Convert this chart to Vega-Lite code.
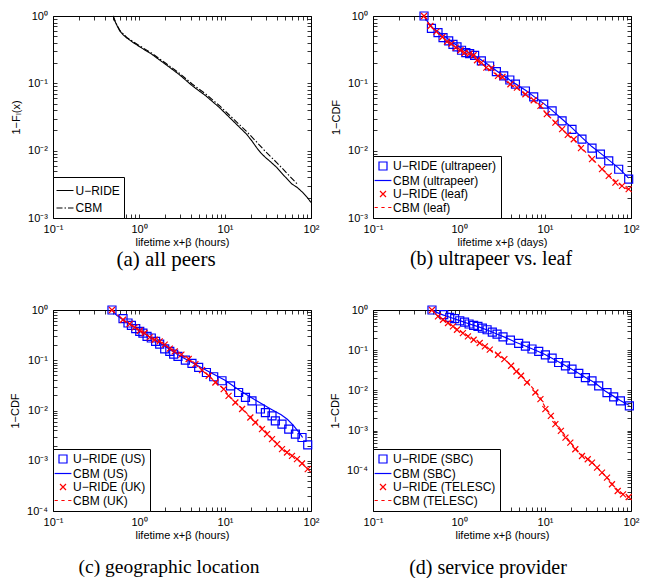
{
  "$schema": "https://vega.github.io/schema/vega-lite/v6.json",
  "background": "white",
  "padding": {"left": 8, "top": 9, "right": 4, "bottom": 0},
  "bounds": "flush",
  "columns": 2,
  "spacing": {"row": 92, "column": 62},
  "resolve": {"scale": {"color": "independent", "shape": "independent", "strokeDash": "independent"}},
  "datasets": {
    "a": [
      {"s":"U−RIDE","x":0.50,"y":1},{"s":"U−RIDE","x":0.52,"y":0.86},{"s":"U−RIDE","x":0.546,"y":0.753},{"s":"U−RIDE","x":0.597,"y":0.60},{"s":"U−RIDE","x":0.65,"y":0.53},{"s":"U−RIDE","x":0.716,"y":0.476},{"s":"U−RIDE","x":0.84,"y":0.41},{"s":"U−RIDE","x":0.984,"y":0.359},{"s":"U−RIDE","x":1.41,"y":0.270},{"s":"U−RIDE","x":2.03,"y":0.192},{"s":"U−RIDE","x":2.92,"y":0.136},{"s":"U−RIDE","x":4.18,"y":0.0915},{"s":"U−RIDE","x":6.0,"y":0.065},{"s":"U−RIDE","x":8.63,"y":0.0436},{"s":"U−RIDE","x":12.4,"y":0.0277},{"s":"U−RIDE","x":17.8,"y":0.0176},{"s":"U−RIDE","x":20.5,"y":0.0140},{"s":"U−RIDE","x":23.3,"y":0.0111},{"s":"U−RIDE","x":26,"y":0.0093},{"s":"U−RIDE","x":29.3,"y":0.0080},{"s":"U−RIDE","x":34,"y":0.0068},{"s":"U−RIDE","x":40.2,"y":0.0056},{"s":"U−RIDE","x":46,"y":0.0046},{"s":"U−RIDE","x":52.7,"y":0.0038},{"s":"U−RIDE","x":60,"y":0.0032},{"s":"U−RIDE","x":69.2,"y":0.00284},{"s":"U−RIDE","x":80,"y":0.0024},{"s":"U−RIDE","x":90.8,"y":0.00201},{"s":"U−RIDE","x":100,"y":0.0017},
      {"s":"CBM","x":0.50,"y":1},{"s":"CBM","x":0.546,"y":0.76},{"s":"CBM","x":0.60,"y":0.61},{"s":"CBM","x":0.72,"y":0.48},{"s":"CBM","x":1.0,"y":0.365},{"s":"CBM","x":1.41,"y":0.28},{"s":"CBM","x":2.03,"y":0.200},{"s":"CBM","x":2.92,"y":0.143},{"s":"CBM","x":4.18,"y":0.097},{"s":"CBM","x":6.0,"y":0.069},{"s":"CBM","x":8.63,"y":0.0465},{"s":"CBM","x":12.4,"y":0.030},{"s":"CBM","x":17.8,"y":0.0193},{"s":"CBM","x":23.3,"y":0.0135},{"s":"CBM","x":29.3,"y":0.0098},{"s":"CBM","x":40.2,"y":0.0066},{"s":"CBM","x":52.7,"y":0.0046},{"s":"CBM","x":69.2,"y":0.0032}
    ],
    "b": [
      {"s":"U−RIDE (ultrapeer)","x":0.392,"y":1},{"s":"U−RIDE (ultrapeer)","x":0.478,"y":0.657},{"s":"U−RIDE (ultrapeer)","x":0.570,"y":0.565},{"s":"U−RIDE (ultrapeer)","x":0.652,"y":0.477},{"s":"U−RIDE (ultrapeer)","x":0.759,"y":0.426},{"s":"U−RIDE (ultrapeer)","x":0.851,"y":0.380},{"s":"U−RIDE (ultrapeer)","x":0.948,"y":0.347},{"s":"U−RIDE (ultrapeer)","x":1.07,"y":0.310},{"s":"U−RIDE (ultrapeer)","x":1.20,"y":0.285},{"s":"U−RIDE (ultrapeer)","x":1.33,"y":0.276},{"s":"U−RIDE (ultrapeer)","x":1.52,"y":0.261},{"s":"U−RIDE (ultrapeer)","x":1.82,"y":0.215},{"s":"U−RIDE (ultrapeer)","x":2.27,"y":0.181},{"s":"U−RIDE (ultrapeer)","x":2.72,"y":0.149},{"s":"U−RIDE (ultrapeer)","x":3.31,"y":0.129},{"s":"U−RIDE (ultrapeer)","x":3.9,"y":0.112},{"s":"U−RIDE (ultrapeer)","x":4.53,"y":0.097},{"s":"U−RIDE (ultrapeer)","x":5.92,"y":0.077},{"s":"U−RIDE (ultrapeer)","x":7.39,"y":0.0628},{"s":"U−RIDE (ultrapeer)","x":9.66,"y":0.049},{"s":"U−RIDE (ultrapeer)","x":12.1,"y":0.039},{"s":"U−RIDE (ultrapeer)","x":15.8,"y":0.0277},{"s":"U−RIDE (ultrapeer)","x":20.6,"y":0.0207},{"s":"U−RIDE (ultrapeer)","x":26.9,"y":0.0148},{"s":"U−RIDE (ultrapeer)","x":35.2,"y":0.0109},{"s":"U−RIDE (ultrapeer)","x":44.1,"y":0.00887},{"s":"U−RIDE (ultrapeer)","x":55.1,"y":0.00706},{"s":"U−RIDE (ultrapeer)","x":71.9,"y":0.0053},{"s":"U−RIDE (ultrapeer)","x":94,"y":0.00378},
      {"s":"CBM (ultrapeer)","x":0.392,"y":1},{"s":"CBM (ultrapeer)","x":0.45,"y":0.76},{"s":"CBM (ultrapeer)","x":0.5,"y":0.66},{"s":"CBM (ultrapeer)","x":0.6,"y":0.56},{"s":"CBM (ultrapeer)","x":0.7,"y":0.49},{"s":"CBM (ultrapeer)","x":0.85,"y":0.40},{"s":"CBM (ultrapeer)","x":1.0,"y":0.35},{"s":"CBM (ultrapeer)","x":1.2,"y":0.30},{"s":"CBM (ultrapeer)","x":1.5,"y":0.26},{"s":"CBM (ultrapeer)","x":2.0,"y":0.205},{"s":"CBM (ultrapeer)","x":2.7,"y":0.155},{"s":"CBM (ultrapeer)","x":3.3,"y":0.13},{"s":"CBM (ultrapeer)","x":4.5,"y":0.099},{"s":"CBM (ultrapeer)","x":6,"y":0.078},{"s":"CBM (ultrapeer)","x":7.4,"y":0.064},{"s":"CBM (ultrapeer)","x":9.7,"y":0.050},{"s":"CBM (ultrapeer)","x":12,"y":0.040},{"s":"CBM (ultrapeer)","x":16,"y":0.029},{"s":"CBM (ultrapeer)","x":20.6,"y":0.0218},{"s":"CBM (ultrapeer)","x":27,"y":0.0156},{"s":"CBM (ultrapeer)","x":35,"y":0.0115},{"s":"CBM (ultrapeer)","x":44,"y":0.0092},{"s":"CBM (ultrapeer)","x":55,"y":0.0073},{"s":"CBM (ultrapeer)","x":72,"y":0.0055},{"s":"CBM (ultrapeer)","x":94,"y":0.0039},
      {"s":"U−RIDE (leaf)","x":0.392,"y":1},{"s":"U−RIDE (leaf)","x":0.465,"y":0.711},{"s":"U−RIDE (leaf)","x":0.546,"y":0.585},{"s":"U−RIDE (leaf)","x":0.641,"y":0.488},{"s":"U−RIDE (leaf)","x":0.725,"y":0.416},{"s":"U−RIDE (leaf)","x":0.816,"y":0.388},{"s":"U−RIDE (leaf)","x":0.916,"y":0.339},{"s":"U−RIDE (leaf)","x":1.04,"y":0.310},{"s":"U−RIDE (leaf)","x":1.16,"y":0.285},{"s":"U−RIDE (leaf)","x":1.33,"y":0.276},{"s":"U−RIDE (leaf)","x":1.48,"y":0.261},{"s":"U−RIDE (leaf)","x":1.62,"y":0.220},{"s":"U−RIDE (leaf)","x":1.82,"y":0.203},{"s":"U−RIDE (leaf)","x":2.08,"y":0.171},{"s":"U−RIDE (leaf)","x":2.38,"y":0.168},{"s":"U−RIDE (leaf)","x":2.84,"y":0.129},{"s":"U−RIDE (leaf)","x":3.20,"y":0.124},{"s":"U−RIDE (leaf)","x":3.96,"y":0.097},{"s":"U−RIDE (leaf)","x":4.72,"y":0.0863},{"s":"U−RIDE (leaf)","x":5.92,"y":0.0689},{"s":"U−RIDE (leaf)","x":7.39,"y":0.0561},{"s":"U−RIDE (leaf)","x":8.85,"y":0.0462},{"s":"U−RIDE (leaf)","x":10.5,"y":0.0348},{"s":"U−RIDE (leaf)","x":13.2,"y":0.0261},{"s":"U−RIDE (leaf)","x":15.8,"y":0.0209},{"s":"U−RIDE (leaf)","x":18.4,"y":0.0172},{"s":"U−RIDE (leaf)","x":21.6,"y":0.0148},{"s":"U−RIDE (leaf)","x":26.2,"y":0.0109},{"s":"U−RIDE (leaf)","x":35.2,"y":0.00748},{"s":"U−RIDE (leaf)","x":46.0,"y":0.00532},{"s":"U−RIDE (leaf)","x":55.1,"y":0.00423},{"s":"U−RIDE (leaf)","x":65.9,"y":0.00336},{"s":"U−RIDE (leaf)","x":78.6,"y":0.0030},{"s":"U−RIDE (leaf)","x":94,"y":0.00268},
      {"s":"CBM (leaf)","x":0.392,"y":1},{"s":"CBM (leaf)","x":0.465,"y":0.71},{"s":"CBM (leaf)","x":0.55,"y":0.58},{"s":"CBM (leaf)","x":0.64,"y":0.49},{"s":"CBM (leaf)","x":0.73,"y":0.42},{"s":"CBM (leaf)","x":0.82,"y":0.385},{"s":"CBM (leaf)","x":0.92,"y":0.34},{"s":"CBM (leaf)","x":1.04,"y":0.31},{"s":"CBM (leaf)","x":1.2,"y":0.28},{"s":"CBM (leaf)","x":1.48,"y":0.255},{"s":"CBM (leaf)","x":1.62,"y":0.225},{"s":"CBM (leaf)","x":2.08,"y":0.172},{"s":"CBM (leaf)","x":2.84,"y":0.13},{"s":"CBM (leaf)","x":3.96,"y":0.096},{"s":"CBM (leaf)","x":4.72,"y":0.085},{"s":"CBM (leaf)","x":5.92,"y":0.068},{"s":"CBM (leaf)","x":7.39,"y":0.055},{"s":"CBM (leaf)","x":8.85,"y":0.045},{"s":"CBM (leaf)","x":10.5,"y":0.035},{"s":"CBM (leaf)","x":13.2,"y":0.0262},{"s":"CBM (leaf)","x":15.8,"y":0.0208},{"s":"CBM (leaf)","x":18.4,"y":0.0172},{"s":"CBM (leaf)","x":21.6,"y":0.0146},{"s":"CBM (leaf)","x":26.2,"y":0.0112},{"s":"CBM (leaf)","x":35.2,"y":0.0076},{"s":"CBM (leaf)","x":46,"y":0.0054},{"s":"CBM (leaf)","x":55,"y":0.0043},{"s":"CBM (leaf)","x":66,"y":0.0035},{"s":"CBM (leaf)","x":78.6,"y":0.0030},{"s":"CBM (leaf)","x":94,"y":0.0026}
    ],
    "c": [
      {"s":"U−RIDE (US)","x":0.485,"y":1},{"s":"U−RIDE (US)","x":0.652,"y":0.671},{"s":"U−RIDE (US)","x":0.745,"y":0.551},{"s":"U−RIDE (US)","x":0.816,"y":0.493},{"s":"U−RIDE (US)","x":0.916,"y":0.424},{"s":"U−RIDE (US)","x":1.02,"y":0.375},{"s":"U−RIDE (US)","x":1.11,"y":0.348},{"s":"U−RIDE (US)","x":1.24,"y":0.298},{"s":"U−RIDE (US)","x":1.39,"y":0.277},{"s":"U−RIDE (US)","x":1.56,"y":0.237},{"s":"U−RIDE (US)","x":1.74,"y":0.210},{"s":"U−RIDE (US)","x":1.99,"y":0.168},{"s":"U−RIDE (US)","x":2.28,"y":0.150},{"s":"U−RIDE (US)","x":2.53,"y":0.133},{"s":"U−RIDE (US)","x":2.84,"y":0.119},{"s":"U−RIDE (US)","x":3.46,"y":0.101},{"s":"U−RIDE (US)","x":4.13,"y":0.0863},{"s":"U−RIDE (US)","x":4.94,"y":0.0719},{"s":"U−RIDE (US)","x":6.08,"y":0.0571},{"s":"U−RIDE (US)","x":7.39,"y":0.0469},{"s":"U−RIDE (US)","x":9.23,"y":0.0391},{"s":"U−RIDE (US)","x":11.6,"y":0.031},{"s":"U−RIDE (US)","x":14.4,"y":0.0228},{"s":"U−RIDE (US)","x":17.3,"y":0.0182},{"s":"U−RIDE (US)","x":20.6,"y":0.0156},{"s":"U−RIDE (US)","x":25.8,"y":0.0107},{"s":"U−RIDE (US)","x":29.5,"y":0.0091},{"s":"U−RIDE (US)","x":35.2,"y":0.00783},{"s":"U−RIDE (US)","x":38.5,"y":0.00623},{"s":"U−RIDE (US)","x":46.0,"y":0.00536},{"s":"U−RIDE (US)","x":55.1,"y":0.00426},{"s":"U−RIDE (US)","x":65.9,"y":0.00339},{"s":"U−RIDE (US)","x":78.6,"y":0.0029},{"s":"U−RIDE (US)","x":91.6,"y":0.00207},
      {"s":"CBM (US)","x":0.485,"y":1},{"s":"CBM (US)","x":0.55,"y":0.78},{"s":"CBM (US)","x":0.65,"y":0.64},{"s":"CBM (US)","x":0.8,"y":0.5},{"s":"CBM (US)","x":1.0,"y":0.39},{"s":"CBM (US)","x":1.5,"y":0.26},{"s":"CBM (US)","x":2,"y":0.19},{"s":"CBM (US)","x":3,"y":0.122},{"s":"CBM (US)","x":4.5,"y":0.083},{"s":"CBM (US)","x":6.2,"y":0.062},{"s":"CBM (US)","x":10,"y":0.040},{"s":"CBM (US)","x":15,"y":0.0247},{"s":"CBM (US)","x":22,"y":0.0165},{"s":"CBM (US)","x":34,"y":0.0107},{"s":"CBM (US)","x":45,"y":0.0082},{"s":"CBM (US)","x":53,"y":0.0067},{"s":"CBM (US)","x":62,"y":0.0051},{"s":"CBM (US)","x":75,"y":0.0034},{"s":"CBM (US)","x":80,"y":0.0029},
      {"s":"U−RIDE (UK)","x":0.485,"y":1},{"s":"U−RIDE (UK)","x":0.652,"y":0.641},{"s":"U−RIDE (UK)","x":0.780,"y":0.526},{"s":"U−RIDE (UK)","x":0.891,"y":0.450},{"s":"U−RIDE (UK)","x":1.02,"y":0.387},{"s":"U−RIDE (UK)","x":1.16,"y":0.348},{"s":"U−RIDE (UK)","x":1.33,"y":0.285},{"s":"U−RIDE (UK)","x":1.52,"y":0.256},{"s":"U−RIDE (UK)","x":1.74,"y":0.237},{"s":"U−RIDE (UK)","x":1.99,"y":0.204},{"s":"U−RIDE (UK)","x":2.28,"y":0.170},{"s":"U−RIDE (UK)","x":2.60,"y":0.150},{"s":"U−RIDE (UK)","x":3.11,"y":0.129},{"s":"U−RIDE (UK)","x":3.78,"y":0.106},{"s":"U−RIDE (UK)","x":4.53,"y":0.084},{"s":"U−RIDE (UK)","x":5.41,"y":0.0638},{"s":"U−RIDE (UK)","x":6.46,"y":0.0491},{"s":"U−RIDE (UK)","x":7.73,"y":0.0361},{"s":"U−RIDE (UK)","x":9.66,"y":0.0267},{"s":"U−RIDE (UK)","x":11.0,"y":0.0196},{"s":"U−RIDE (UK)","x":13.2,"y":0.0144},{"s":"U−RIDE (UK)","x":15.8,"y":0.0107},{"s":"U−RIDE (UK)","x":19.7,"y":0.00726},{"s":"U−RIDE (UK)","x":22.5,"y":0.00577},{"s":"U−RIDE (UK)","x":26.9,"y":0.00426},{"s":"U−RIDE (UK)","x":30.8,"y":0.00339},{"s":"U−RIDE (UK)","x":35.2,"y":0.00269},{"s":"U−RIDE (UK)","x":40.3,"y":0.00214},{"s":"U−RIDE (UK)","x":46.0,"y":0.0017},{"s":"U−RIDE (UK)","x":52.6,"y":0.00146},{"s":"U−RIDE (UK)","x":60.1,"y":0.00125},{"s":"U−RIDE (UK)","x":68.7,"y":0.00108},{"s":"U−RIDE (UK)","x":78.6,"y":0.00088},{"s":"U−RIDE (UK)","x":91.6,"y":0.00068},
      {"s":"CBM (UK)","x":0.485,"y":1},{"s":"CBM (UK)","x":0.652,"y":0.64},{"s":"CBM (UK)","x":0.78,"y":0.53},{"s":"CBM (UK)","x":0.891,"y":0.45},{"s":"CBM (UK)","x":1.02,"y":0.39},{"s":"CBM (UK)","x":1.16,"y":0.345},{"s":"CBM (UK)","x":1.33,"y":0.29},{"s":"CBM (UK)","x":1.52,"y":0.255},{"s":"CBM (UK)","x":1.74,"y":0.232},{"s":"CBM (UK)","x":1.99,"y":0.205},{"s":"CBM (UK)","x":2.28,"y":0.172},{"s":"CBM (UK)","x":2.6,"y":0.150},{"s":"CBM (UK)","x":3.11,"y":0.128},{"s":"CBM (UK)","x":3.78,"y":0.105},{"s":"CBM (UK)","x":4.53,"y":0.085},{"s":"CBM (UK)","x":5.41,"y":0.064},{"s":"CBM (UK)","x":6.46,"y":0.049},{"s":"CBM (UK)","x":7.73,"y":0.037},{"s":"CBM (UK)","x":9.66,"y":0.027},{"s":"CBM (UK)","x":11,"y":0.020},{"s":"CBM (UK)","x":13.2,"y":0.0146},{"s":"CBM (UK)","x":15.8,"y":0.0110},{"s":"CBM (UK)","x":19.7,"y":0.0075},{"s":"CBM (UK)","x":22.5,"y":0.0060},{"s":"CBM (UK)","x":26.9,"y":0.0045},{"s":"CBM (UK)","x":30.8,"y":0.0036},{"s":"CBM (UK)","x":35.2,"y":0.0028},{"s":"CBM (UK)","x":40.3,"y":0.0022},{"s":"CBM (UK)","x":46,"y":0.00175},{"s":"CBM (UK)","x":52.6,"y":0.0015},{"s":"CBM (UK)","x":60.1,"y":0.00128},{"s":"CBM (UK)","x":68.7,"y":0.0011},{"s":"CBM (UK)","x":78.6,"y":0.0009},{"s":"CBM (UK)","x":91.6,"y":0.0007}
    ],
    "d": [
      {"s":"U−RIDE (SBC)","x":0.485,"y":1},{"s":"U−RIDE (SBC)","x":0.664,"y":0.764},{"s":"U−RIDE (SBC)","x":0.780,"y":0.654},{"s":"U−RIDE (SBC)","x":0.891,"y":0.607},{"s":"U−RIDE (SBC)","x":1.02,"y":0.541},{"s":"U−RIDE (SBC)","x":1.16,"y":0.502},{"s":"U−RIDE (SBC)","x":1.31,"y":0.448},{"s":"U−RIDE (SBC)","x":1.48,"y":0.413},{"s":"U−RIDE (SBC)","x":1.66,"y":0.390},{"s":"U−RIDE (SBC)","x":1.87,"y":0.356},{"s":"U−RIDE (SBC)","x":2.12,"y":0.323},{"s":"U−RIDE (SBC)","x":2.44,"y":0.283},{"s":"U−RIDE (SBC)","x":2.77,"y":0.252},{"s":"U−RIDE (SBC)","x":3.25,"y":0.215},{"s":"U−RIDE (SBC)","x":3.96,"y":0.178},{"s":"U−RIDE (SBC)","x":4.94,"y":0.147},{"s":"U−RIDE (SBC)","x":5.92,"y":0.127},{"s":"U−RIDE (SBC)","x":7.06,"y":0.107},{"s":"U−RIDE (SBC)","x":8.45,"y":0.093},{"s":"U−RIDE (SBC)","x":10.1,"y":0.0769},{"s":"U−RIDE (SBC)","x":12.1,"y":0.0637},{"s":"U−RIDE (SBC)","x":14.4,"y":0.0495},{"s":"U−RIDE (SBC)","x":17.3,"y":0.0409},{"s":"U−RIDE (SBC)","x":20.6,"y":0.0339},{"s":"U−RIDE (SBC)","x":24.7,"y":0.0264},{"s":"U−RIDE (SBC)","x":29.5,"y":0.0209},{"s":"U−RIDE (SBC)","x":35.2,"y":0.0173},{"s":"U−RIDE (SBC)","x":42.1,"y":0.013},{"s":"U−RIDE (SBC)","x":52.6,"y":0.00885},{"s":"U−RIDE (SBC)","x":62.9,"y":0.00692},{"s":"U−RIDE (SBC)","x":75.3,"y":0.0055},{"s":"U−RIDE (SBC)","x":95.7,"y":0.00413},
      {"s":"CBM (SBC)","x":0.485,"y":1},{"s":"CBM (SBC)","x":0.6,"y":0.80},{"s":"CBM (SBC)","x":0.8,"y":0.65},{"s":"CBM (SBC)","x":1.0,"y":0.55},{"s":"CBM (SBC)","x":1.3,"y":0.455},{"s":"CBM (SBC)","x":1.7,"y":0.38},{"s":"CBM (SBC)","x":2.2,"y":0.31},{"s":"CBM (SBC)","x":2.8,"y":0.25},{"s":"CBM (SBC)","x":3.5,"y":0.205},{"s":"CBM (SBC)","x":4.5,"y":0.160},{"s":"CBM (SBC)","x":6,"y":0.125},{"s":"CBM (SBC)","x":8,"y":0.097},{"s":"CBM (SBC)","x":10,"y":0.078},{"s":"CBM (SBC)","x":13,"y":0.058},{"s":"CBM (SBC)","x":17,"y":0.042},{"s":"CBM (SBC)","x":22,"y":0.031},{"s":"CBM (SBC)","x":29,"y":0.0215},{"s":"CBM (SBC)","x":38,"y":0.0155},{"s":"CBM (SBC)","x":50,"y":0.0097},{"s":"CBM (SBC)","x":63,"y":0.0071},{"s":"CBM (SBC)","x":75,"y":0.0056},{"s":"CBM (SBC)","x":95.7,"y":0.0042},
      {"s":"U−RIDE (TELESC)","x":0.485,"y":1},{"s":"U−RIDE (TELESC)","x":0.570,"y":0.693},{"s":"U−RIDE (TELESC)","x":0.652,"y":0.573},{"s":"U−RIDE (TELESC)","x":0.745,"y":0.474},{"s":"U−RIDE (TELESC)","x":0.851,"y":0.390},{"s":"U−RIDE (TELESC)","x":0.948,"y":0.323},{"s":"U−RIDE (TELESC)","x":1.11,"y":0.267},{"s":"U−RIDE (TELESC)","x":1.27,"y":0.220},{"s":"U−RIDE (TELESC)","x":1.48,"y":0.182},{"s":"U−RIDE (TELESC)","x":1.74,"y":0.151},{"s":"U−RIDE (TELESC)","x":2.0,"y":0.125},{"s":"U−RIDE (TELESC)","x":2.28,"y":0.103},{"s":"U−RIDE (TELESC)","x":2.84,"y":0.0769},{"s":"U−RIDE (TELESC)","x":3.37,"y":0.0601},{"s":"U−RIDE (TELESC)","x":4.03,"y":0.041},{"s":"U−RIDE (TELESC)","x":4.65,"y":0.0295},{"s":"U−RIDE (TELESC)","x":5.26,"y":0.0231},{"s":"U−RIDE (TELESC)","x":6.18,"y":0.0157},{"s":"U−RIDE (TELESC)","x":7.73,"y":0.00885},{"s":"U−RIDE (TELESC)","x":8.85,"y":0.00607},{"s":"U−RIDE (TELESC)","x":10.1,"y":0.00342},{"s":"U−RIDE (TELESC)","x":11.7,"y":0.00233},{"s":"U−RIDE (TELESC)","x":13.2,"y":0.00145},{"s":"U−RIDE (TELESC)","x":15.3,"y":0.000984},{"s":"U−RIDE (TELESC)","x":17.3,"y":0.00067},{"s":"U−RIDE (TELESC)","x":19.7,"y":0.000503},{"s":"U−RIDE (TELESC)","x":22.5,"y":0.000344},{"s":"U−RIDE (TELESC)","x":26.9,"y":0.000234},{"s":"U−RIDE (TELESC)","x":31.4,"y":0.000194},{"s":"U−RIDE (TELESC)","x":35.2,"y":0.00016},{"s":"U−RIDE (TELESC)","x":40.3,"y":0.00012},{"s":"U−RIDE (TELESC)","x":46.0,"y":0.00009},{"s":"U−RIDE (TELESC)","x":52.6,"y":0.0000676},{"s":"U−RIDE (TELESC)","x":60.1,"y":0.0000462},{"s":"U−RIDE (TELESC)","x":70.0,"y":0.0000315},{"s":"U−RIDE (TELESC)","x":80.7,"y":0.000026},{"s":"U−RIDE (TELESC)","x":94,"y":0.0000223},
      {"s":"CBM (TELESC)","x":0.485,"y":1},{"s":"CBM (TELESC)","x":0.6,"y":0.63},{"s":"CBM (TELESC)","x":0.75,"y":0.47},{"s":"CBM (TELESC)","x":0.95,"y":0.33},{"s":"CBM (TELESC)","x":1.2,"y":0.245},{"s":"CBM (TELESC)","x":1.5,"y":0.18},{"s":"CBM (TELESC)","x":2.0,"y":0.125},{"s":"CBM (TELESC)","x":2.5,"y":0.092},{"s":"CBM (TELESC)","x":3.0,"y":0.072},{"s":"CBM (TELESC)","x":3.5,"y":0.056},{"s":"CBM (TELESC)","x":4.0,"y":0.043},{"s":"CBM (TELESC)","x":4.65,"y":0.031},{"s":"CBM (TELESC)","x":5.3,"y":0.0235},{"s":"CBM (TELESC)","x":6.2,"y":0.0165},{"s":"CBM (TELESC)","x":7.0,"y":0.0123},{"s":"CBM (TELESC)","x":7.8,"y":0.0093},{"s":"CBM (TELESC)","x":8.9,"y":0.0063},{"s":"CBM (TELESC)","x":10.1,"y":0.0037},{"s":"CBM (TELESC)","x":11.7,"y":0.0025},{"s":"CBM (TELESC)","x":13.2,"y":0.00158},{"s":"CBM (TELESC)","x":15.3,"y":0.00105},{"s":"CBM (TELESC)","x":17.3,"y":0.00072},{"s":"CBM (TELESC)","x":19.7,"y":0.00052},{"s":"CBM (TELESC)","x":22.5,"y":0.00036},{"s":"CBM (TELESC)","x":26.9,"y":0.000245},{"s":"CBM (TELESC)","x":31.4,"y":0.000195},{"s":"CBM (TELESC)","x":35.2,"y":0.000162},{"s":"CBM (TELESC)","x":40.3,"y":0.000122},{"s":"CBM (TELESC)","x":46,"y":0.000091},{"s":"CBM (TELESC)","x":52.6,"y":0.000068},{"s":"CBM (TELESC)","x":60.1,"y":0.000047},{"s":"CBM (TELESC)","x":70,"y":0.000033},{"s":"CBM (TELESC)","x":80.7,"y":0.000026},{"s":"CBM (TELESC)","x":94,"y":0.0000223}
    ]
  },
  "concat": [
    {
      "width": 258, "height": 202,
      "data": {"name": "a"},
      "title": {"text": "(a) all peers", "orient": "bottom", "frame": "group", "font": "Liberation Serif", "fontSize": 21, "fontWeight": "normal", "color": "black", "anchor": "middle", "offset": 1, "dx": -16},
      "resolve": {"axis": {"x": "independent", "y": "independent"}},
      "layer": [
        {
          "mark": {"type": "line", "color": "black", "strokeWidth": 1.1},
          "encoding": {
            "x": {"field": "x", "type": "quantitative", "scale": {"type": "log", "domain": [0.1, 100], "nice": false},
              "axis": {"orient": "bottom", "values": [0.1,0.2,0.3,0.4,0.5,0.6,0.7,0.8,0.9,1,2,3,4,5,6,7,8,9,10,20,30,40,50,60,70,80,90,100], "labelExpr": "abs(log(datum.value)/LN10 - round(log(datum.value)/LN10)) < 0.01 ? '10' + replace(replace(replace(replace(replace(replace(replace('' + round(log(datum.value)/LN10), '-', '⁻'), '0', '⁰'), '1', '¹'), '2', '²'), '3', '³'), '4', '⁴'), '5', '⁵') : ''", "title": "lifetime x+β (hours)", "titlePadding": 2}},
            "y": {"field": "y", "type": "quantitative", "scale": {"type": "log", "domain": [0.001, 1], "nice": false},
              "axis": {"orient": "left", "values": [0.001,0.002,0.003,0.004,0.005,0.006,0.007,0.008,0.009,0.01,0.02,0.03,0.04,0.05,0.06,0.07,0.08,0.09,0.1,0.2,0.3,0.4,0.5,0.6,0.7,0.8,0.9,1], "labelExpr": "abs(log(datum.value)/LN10 - round(log(datum.value)/LN10)) < 0.01 ? '10' + replace(replace(replace(replace(replace(replace(replace('' + round(log(datum.value)/LN10), '-', '⁻'), '0', '⁰'), '1', '¹'), '2', '²'), '3', '³'), '4', '⁴'), '5', '⁵') : ''", "title": "1−Fₗ(x)", "titlePadding": 6.5}},
            "strokeDash": {"field": "s", "type": "nominal", "scale": {"domain": ["U−RIDE", "CBM"], "range": [[1, 0], [6, 2, 1.5, 2]]},
              "legend": {"title": null, "symbolType": "stroke", "symbolSize": 289, "symbolOffset": -1.5, "labelOffset": 1, "symbolStrokeColor": "black", "symbolStrokeWidth": 1.1}}
          }
        },
        {
          "mark": {"type": "point", "opacity": 0},
          "encoding": {
            "x": {"field": "x", "type": "quantitative", "scale": {"type": "log", "domain": [0.1, 100], "nice": false},
              "axis": {"orient": "top", "values": [0.1,0.2,0.3,0.4,0.5,0.6,0.7,0.8,0.9,1,2,3,4,5,6,7,8,9,10,20,30,40,50,60,70,80,90,100], "labels": false, "title": null}},
            "y": {"field": "y", "type": "quantitative", "scale": {"type": "log", "domain": [0.001, 1], "nice": false},
              "axis": {"orient": "right", "values": [0.001,0.002,0.003,0.004,0.005,0.006,0.007,0.008,0.009,0.01,0.02,0.03,0.04,0.05,0.06,0.07,0.08,0.09,0.1,0.2,0.3,0.4,0.5,0.6,0.7,0.8,0.9,1], "labels": false, "title": null}}
          }
        }
      ]
    },
    {
      "width": 258, "height": 202,
      "data": {"name": "b"},
      "title": {"text": "(b) ultrapeer vs. leaf", "orient": "bottom", "frame": "group", "font": "Liberation Serif", "fontSize": 20, "fontWeight": "normal", "color": "black", "anchor": "middle", "offset": 1, "dx": -11},
      "resolve": {"axis": {"x": "independent", "y": "independent"}},
      "layer": [
        {
          "transform": [{"filter": "datum.s === 'CBM (ultrapeer)'"}],
          "mark": {"type": "line", "color": "blue", "strokeWidth": 1.2},
          "encoding": {
            "x": {"field": "x", "type": "quantitative", "scale": {"type": "log", "domain": [0.1, 100], "nice": false},
              "axis": {"orient": "bottom", "values": [0.1,0.2,0.3,0.4,0.5,0.6,0.7,0.8,0.9,1,2,3,4,5,6,7,8,9,10,20,30,40,50,60,70,80,90,100], "labelExpr": "abs(log(datum.value)/LN10 - round(log(datum.value)/LN10)) < 0.01 ? '10' + replace(replace(replace(replace(replace(replace(replace('' + round(log(datum.value)/LN10), '-', '⁻'), '0', '⁰'), '1', '¹'), '2', '²'), '3', '³'), '4', '⁴'), '5', '⁵') : ''", "title": "lifetime x+β (days)", "titlePadding": 2}},
            "y": {"field": "y", "type": "quantitative", "scale": {"type": "log", "domain": [0.001, 1], "nice": false},
              "axis": {"orient": "left", "values": [0.001,0.002,0.003,0.004,0.005,0.006,0.007,0.008,0.009,0.01,0.02,0.03,0.04,0.05,0.06,0.07,0.08,0.09,0.1,0.2,0.3,0.4,0.5,0.6,0.7,0.8,0.9,1], "labelExpr": "abs(log(datum.value)/LN10 - round(log(datum.value)/LN10)) < 0.01 ? '10' + replace(replace(replace(replace(replace(replace(replace('' + round(log(datum.value)/LN10), '-', '⁻'), '0', '⁰'), '1', '¹'), '2', '²'), '3', '³'), '4', '⁴'), '5', '⁵') : ''", "title": "1−CDF", "titlePadding": 6.5}}
          }
        },
        {
          "transform": [{"filter": "datum.s === 'CBM (leaf)'"}],
          "mark": {"type": "line", "color": "red", "strokeWidth": 1.2, "strokeDash": [4, 3]},
          "encoding": {
            "x": {"field": "x", "type": "quantitative", "scale": {"type": "log", "domain": [0.1, 100], "nice": false}, "axis": null},
            "y": {"field": "y", "type": "quantitative", "scale": {"type": "log", "domain": [0.001, 1], "nice": false}, "axis": null}
          }
        },
        {
          "transform": [{"filter": "indexof(datum.s, 'U') === 0"}],
          "mark": {"type": "point", "filled": false, "size": 64, "strokeWidth": 1.2, "opacity": 1},
          "encoding": {
            "x": {"field": "x", "type": "quantitative", "scale": {"type": "log", "domain": [0.1, 100], "nice": false}, "axis": null},
            "y": {"field": "y", "type": "quantitative", "scale": {"type": "log", "domain": [0.001, 1], "nice": false}, "axis": null},
            "color": {"field": "s", "type": "nominal", "scale": {"domain": ["U−RIDE (ultrapeer)", "CBM (ultrapeer)", "U−RIDE (leaf)", "CBM (leaf)"], "range": ["blue", "blue", "red", "red"]}, "legend": {"title": null}},
            "shape": {"field": "s", "type": "nominal", "scale": {"domain": ["U−RIDE (ultrapeer)", "CBM (ultrapeer)", "U−RIDE (leaf)", "CBM (leaf)"], "range": ["square", "M-2.1,0L2.1,0", "M-0.75,-0.75L0.75,0.75M-0.75,0.75L0.75,-0.75", "M-2.1,0L-1.3,0M-0.4,0L0.4,0M1.3,0L2.1,0"]}, "legend": {"title": null}}
          }
        },
        {
          "mark": {"type": "point", "opacity": 0},
          "encoding": {
            "x": {"field": "x", "type": "quantitative", "scale": {"type": "log", "domain": [0.1, 100], "nice": false},
              "axis": {"orient": "top", "values": [0.1,0.2,0.3,0.4,0.5,0.6,0.7,0.8,0.9,1,2,3,4,5,6,7,8,9,10,20,30,40,50,60,70,80,90,100], "labels": false, "title": null}},
            "y": {"field": "y", "type": "quantitative", "scale": {"type": "log", "domain": [0.001, 1], "nice": false},
              "axis": {"orient": "right", "values": [0.001,0.002,0.003,0.004,0.005,0.006,0.007,0.008,0.009,0.01,0.02,0.03,0.04,0.05,0.06,0.07,0.08,0.09,0.1,0.2,0.3,0.4,0.5,0.6,0.7,0.8,0.9,1], "labels": false, "title": null}}
          }
        }
      ]
    },
    {
      "width": 258, "height": 201,
      "data": {"name": "c"},
      "title": {"text": "(c) geographic location", "orient": "bottom", "frame": "group", "font": "Liberation Serif", "fontSize": 19.5, "fontWeight": "normal", "color": "black", "anchor": "middle", "offset": 17, "dx": -13},
      "resolve": {"axis": {"x": "independent", "y": "independent"}},
      "layer": [
        {
          "transform": [{"filter": "datum.s === 'CBM (US)'"}],
          "mark": {"type": "line", "color": "blue", "strokeWidth": 1.2},
          "encoding": {
            "x": {"field": "x", "type": "quantitative", "scale": {"type": "log", "domain": [0.1, 100], "nice": false},
              "axis": {"orient": "bottom", "values": [0.1,0.2,0.3,0.4,0.5,0.6,0.7,0.8,0.9,1,2,3,4,5,6,7,8,9,10,20,30,40,50,60,70,80,90,100], "labelExpr": "abs(log(datum.value)/LN10 - round(log(datum.value)/LN10)) < 0.01 ? '10' + replace(replace(replace(replace(replace(replace(replace('' + round(log(datum.value)/LN10), '-', '⁻'), '0', '⁰'), '1', '¹'), '2', '²'), '3', '³'), '4', '⁴'), '5', '⁵') : ''", "title": "lifetime x+β (hours)", "titlePadding": 2}},
            "y": {"field": "y", "type": "quantitative", "scale": {"type": "log", "domain": [0.0001, 1], "nice": false},
              "axis": {"orient": "left", "values": [0.0001,0.0002,0.0003,0.0004,0.0005,0.0006,0.0007,0.0008,0.0009,0.001,0.002,0.003,0.004,0.005,0.006,0.007,0.008,0.009,0.01,0.02,0.03,0.04,0.05,0.06,0.07,0.08,0.09,0.1,0.2,0.3,0.4,0.5,0.6,0.7,0.8,0.9,1], "labelExpr": "abs(log(datum.value)/LN10 - round(log(datum.value)/LN10)) < 0.01 ? '10' + replace(replace(replace(replace(replace(replace(replace('' + round(log(datum.value)/LN10), '-', '⁻'), '0', '⁰'), '1', '¹'), '2', '²'), '3', '³'), '4', '⁴'), '5', '⁵') : ''", "title": "1−CDF", "titlePadding": 6.5}}
          }
        },
        {
          "transform": [{"filter": "datum.s === 'CBM (UK)'"}],
          "mark": {"type": "line", "color": "red", "strokeWidth": 1.2, "strokeDash": [4, 3]},
          "encoding": {
            "x": {"field": "x", "type": "quantitative", "scale": {"type": "log", "domain": [0.1, 100], "nice": false}, "axis": null},
            "y": {"field": "y", "type": "quantitative", "scale": {"type": "log", "domain": [0.0001, 1], "nice": false}, "axis": null}
          }
        },
        {
          "transform": [{"filter": "indexof(datum.s, 'U') === 0"}],
          "mark": {"type": "point", "filled": false, "size": 64, "strokeWidth": 1.2, "opacity": 1},
          "encoding": {
            "x": {"field": "x", "type": "quantitative", "scale": {"type": "log", "domain": [0.1, 100], "nice": false}, "axis": null},
            "y": {"field": "y", "type": "quantitative", "scale": {"type": "log", "domain": [0.0001, 1], "nice": false}, "axis": null},
            "color": {"field": "s", "type": "nominal", "scale": {"domain": ["U−RIDE (US)", "CBM (US)", "U−RIDE (UK)", "CBM (UK)"], "range": ["blue", "blue", "red", "red"]}, "legend": {"title": null}},
            "shape": {"field": "s", "type": "nominal", "scale": {"domain": ["U−RIDE (US)", "CBM (US)", "U−RIDE (UK)", "CBM (UK)"], "range": ["square", "M-2.1,0L2.1,0", "M-0.75,-0.75L0.75,0.75M-0.75,0.75L0.75,-0.75", "M-2.1,0L-1.3,0M-0.4,0L0.4,0M1.3,0L2.1,0"]}, "legend": {"title": null}}
          }
        },
        {
          "mark": {"type": "point", "opacity": 0},
          "encoding": {
            "x": {"field": "x", "type": "quantitative", "scale": {"type": "log", "domain": [0.1, 100], "nice": false},
              "axis": {"orient": "top", "values": [0.1,0.2,0.3,0.4,0.5,0.6,0.7,0.8,0.9,1,2,3,4,5,6,7,8,9,10,20,30,40,50,60,70,80,90,100], "labels": false, "title": null}},
            "y": {"field": "y", "type": "quantitative", "scale": {"type": "log", "domain": [0.0001, 1], "nice": false},
              "axis": {"orient": "right", "values": [0.0001,0.0002,0.0003,0.0004,0.0005,0.0006,0.0007,0.0008,0.0009,0.001,0.002,0.003,0.004,0.005,0.006,0.007,0.008,0.009,0.01,0.02,0.03,0.04,0.05,0.06,0.07,0.08,0.09,0.1,0.2,0.3,0.4,0.5,0.6,0.7,0.8,0.9,1], "labels": false, "title": null}}
          }
        }
      ]
    },
    {
      "width": 258, "height": 201,
      "data": {"name": "d"},
      "title": {"text": "(d) service provider", "orient": "bottom", "frame": "group", "font": "Liberation Serif", "fontSize": 20, "fontWeight": "normal", "color": "black", "anchor": "middle", "offset": 17, "dx": -14},
      "resolve": {"axis": {"x": "independent", "y": "independent"}},
      "layer": [
        {
          "transform": [{"filter": "datum.s === 'CBM (SBC)'"}],
          "mark": {"type": "line", "color": "blue", "strokeWidth": 1.2},
          "encoding": {
            "x": {"field": "x", "type": "quantitative", "scale": {"type": "log", "domain": [0.1, 100], "nice": false},
              "axis": {"orient": "bottom", "values": [0.1,0.2,0.3,0.4,0.5,0.6,0.7,0.8,0.9,1,2,3,4,5,6,7,8,9,10,20,30,40,50,60,70,80,90,100], "labelExpr": "abs(log(datum.value)/LN10 - round(log(datum.value)/LN10)) < 0.01 ? '10' + replace(replace(replace(replace(replace(replace(replace('' + round(log(datum.value)/LN10), '-', '⁻'), '0', '⁰'), '1', '¹'), '2', '²'), '3', '³'), '4', '⁴'), '5', '⁵') : ''", "title": "lifetime x+β (hours)", "titlePadding": 2}},
            "y": {"field": "y", "type": "quantitative", "scale": {"type": "log", "domain": [0.00001, 1], "nice": false},
              "axis": {"orient": "left", "values": [0.00002,0.00003,0.00004,0.00005,0.00006,0.00007,0.00008,0.00009,0.0001,0.0002,0.0003,0.0004,0.0005,0.0006,0.0007,0.0008,0.0009,0.001,0.002,0.003,0.004,0.005,0.006,0.007,0.008,0.009,0.01,0.02,0.03,0.04,0.05,0.06,0.07,0.08,0.09,0.1,0.2,0.3,0.4,0.5,0.6,0.7,0.8,0.9,1], "labelExpr": "abs(log(datum.value)/LN10 - round(log(datum.value)/LN10)) < 0.01 ? '10' + replace(replace(replace(replace(replace(replace(replace('' + round(log(datum.value)/LN10), '-', '⁻'), '0', '⁰'), '1', '¹'), '2', '²'), '3', '³'), '4', '⁴'), '5', '⁵') : ''", "title": "1−CDF", "titlePadding": 6.5}}
          }
        },
        {
          "transform": [{"filter": "datum.s === 'CBM (TELESC)'"}],
          "mark": {"type": "line", "color": "red", "strokeWidth": 1.2, "strokeDash": [4, 3]},
          "encoding": {
            "x": {"field": "x", "type": "quantitative", "scale": {"type": "log", "domain": [0.1, 100], "nice": false}, "axis": null},
            "y": {"field": "y", "type": "quantitative", "scale": {"type": "log", "domain": [0.00001, 1], "nice": false}, "axis": null}
          }
        },
        {
          "transform": [{"filter": "indexof(datum.s, 'U') === 0"}],
          "mark": {"type": "point", "filled": false, "size": 64, "strokeWidth": 1.2, "opacity": 1},
          "encoding": {
            "x": {"field": "x", "type": "quantitative", "scale": {"type": "log", "domain": [0.1, 100], "nice": false}, "axis": null},
            "y": {"field": "y", "type": "quantitative", "scale": {"type": "log", "domain": [0.00001, 1], "nice": false}, "axis": null},
            "color": {"field": "s", "type": "nominal", "scale": {"domain": ["U−RIDE (SBC)", "CBM (SBC)", "U−RIDE (TELESC)", "CBM (TELESC)"], "range": ["blue", "blue", "red", "red"]}, "legend": {"title": null}},
            "shape": {"field": "s", "type": "nominal", "scale": {"domain": ["U−RIDE (SBC)", "CBM (SBC)", "U−RIDE (TELESC)", "CBM (TELESC)"], "range": ["square", "M-2.1,0L2.1,0", "M-0.75,-0.75L0.75,0.75M-0.75,0.75L0.75,-0.75", "M-2.1,0L-1.3,0M-0.4,0L0.4,0M1.3,0L2.1,0"]}, "legend": {"title": null}}
          }
        },
        {
          "mark": {"type": "point", "opacity": 0},
          "encoding": {
            "x": {"field": "x", "type": "quantitative", "scale": {"type": "log", "domain": [0.1, 100], "nice": false},
              "axis": {"orient": "top", "values": [0.1,0.2,0.3,0.4,0.5,0.6,0.7,0.8,0.9,1,2,3,4,5,6,7,8,9,10,20,30,40,50,60,70,80,90,100], "labels": false, "title": null}},
            "y": {"field": "y", "type": "quantitative", "scale": {"type": "log", "domain": [0.00001, 1], "nice": false},
              "axis": {"orient": "right", "values": [0.00002,0.00003,0.00004,0.00005,0.00006,0.00007,0.00008,0.00009,0.0001,0.0002,0.0003,0.0004,0.0005,0.0006,0.0007,0.0008,0.0009,0.001,0.002,0.003,0.004,0.005,0.006,0.007,0.008,0.009,0.01,0.02,0.03,0.04,0.05,0.06,0.07,0.08,0.09,0.1,0.2,0.3,0.4,0.5,0.6,0.7,0.8,0.9,1], "labels": false, "title": null}}
          }
        }
      ]
    }
  ],
  "config": {
    "font": "Liberation Sans",
    "view": {"stroke": "black", "strokeWidth": 1},
    "axis": {"grid": false, "domain": false, "tickColor": "black", "tickSize": -4, "tickWidth": 0.8, "labelPadding": 9.5, "labelColor": "black", "titleColor": "black", "labelFont": "Liberation Sans", "titleFont": "Liberation Sans", "labelFontSize": 11, "titleFontSize": 11, "titleFontWeight": "normal", "labelOverlap": false, "labelFlush": false, "labelBound": false},
    "legend": {"orient": "bottom-left", "offset": 0, "strokeColor": "black", "strokeWidth": 1, "fillColor": "white", "padding": 4, "labelFont": "Liberation Sans", "labelFontSize": 12, "labelColor": "black", "rowPadding": 1.5, "symbolStrokeWidth": 1.2, "symbolSize": 64, "symbolOffset": 0, "labelOffset": 4, "labelLimit": 300}
  }
}
